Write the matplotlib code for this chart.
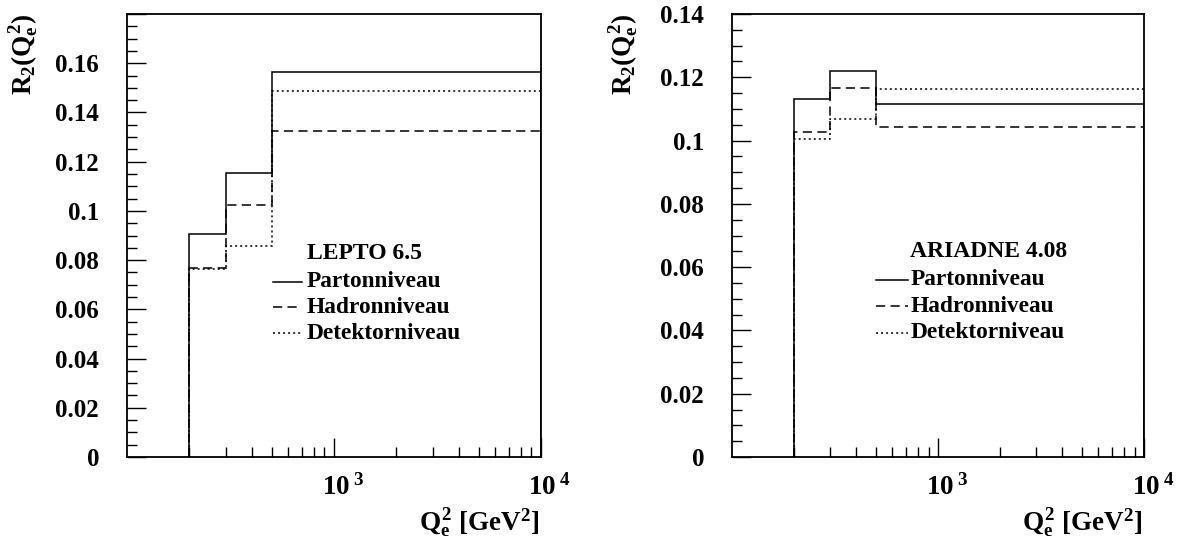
import numpy as np
import matplotlib
matplotlib.use("Agg")
import matplotlib.pyplot as plt
from matplotlib.transforms import ScaledTranslation

plt.rcParams["font.family"] = ["Liberation Serif", "DejaVu Serif"]
plt.rcParams["font.weight"] = "bold"
plt.rcParams["mathtext.fontset"] = "custom"
plt.rcParams["mathtext.rm"] = "Liberation Serif:bold"
plt.rcParams["mathtext.it"] = "Liberation Serif:bold"
plt.rcParams["mathtext.bf"] = "Liberation Serif:bold"

# Q_e^2 bin edges [GeV^2]
bin_edges = [200, 300, 500, 10000]

# LEPTO 6.5
lepto_parton = [0.0907, 0.1153, 0.1563]
lepto_hadron = [0.0770, 0.1026, 0.1325]
lepto_detector = [0.0765, 0.0858, 0.1486]

# ARIADNE 4.08
ariadne_parton = [0.1131, 0.1220, 0.1115]
ariadne_hadron = [0.1026, 0.1167, 0.1042]
ariadne_detector = [0.1005, 0.1068, 0.1164]

level_names = ["Partonniveau", "Hadronniveau", "Detektorniveau"]
x_tick_values = [1e3, 1e4]
x_tick_labels = [r"$10^{\;3}$", r"$10^{\;4}$"]

SOLID = "-"
DASHED = (0, (6, 3.5))
DOTTED = (0, (1.3, 2.0))
styles = [SOLID, DASHED, DOTTED]

fig = plt.figure(figsize=(11.8, 5.42), dpi=100)

panels = [
    dict(rect=[0.1076, 0.1568, 0.3508, 0.8173], ymax=0.18, hide_top=True,
         series=[lepto_parton, lepto_hadron, lepto_detector],
         title="LEPTO 6.5", title_xy=(0.575, 0.459),
         line_x=(0.352, 0.424), text_x=0.434, rows=[0.396, 0.338, 0.279],
         ylab_x=-0.251),
    dict(rect=[0.6203, 0.1568, 0.3492, 0.8173], ymax=0.14, hide_top=False,
         series=[ariadne_parton, ariadne_hadron, ariadne_detector],
         title="ARIADNE 4.08", title_xy=(0.623, 0.464),
         line_x=(0.349, 0.427), text_x=0.433, rows=[0.400, 0.340, 0.280],
         ylab_x=-0.262),
]

for p in panels:
    ax = fig.add_axes(p["rect"])
    # draw the solid (parton level) curve last so it sits on top
    for vals, ls in reversed(list(zip(p["series"], styles))):
        ax.stairs(vals, bin_edges, baseline=0, color="black", lw=1.1,
                  linestyle=ls)

    ax.set_xscale("log")
    ax.set_xlim(100, 1e4)
    ax.set_ylim(0, p["ymax"])

    ax.set_xticks(x_tick_values)
    ax.set_xticklabels(x_tick_labels)
    ax.set_xticks([v * m for v in (100, 1000) for m in range(2, 10)],
                  minor=True)
    ax.xaxis.set_minor_formatter(plt.NullFormatter())
    ax.set_yticks(np.arange(0, p["ymax"] + 1e-9, 0.02))
    ax.set_yticks(np.arange(0, p["ymax"] + 1e-9, 0.005), minor=True)

    top = p["ymax"]
    hide_top = p["hide_top"]

    def fmt(v, _, top=top, hide_top=hide_top):
        if abs(v) < 1e-12:
            return "0"
        if hide_top and abs(v - top) < 1e-9:
            return ""
        return f"{v:g}"

    ax.yaxis.set_major_formatter(plt.FuncFormatter(fmt))

    ax.tick_params(axis="both", which="both", direction="in",
                   top=False, right=False, width=1.0, labelsize=18)
    ax.tick_params(axis="x", which="major", labelsize=19.5)
    ax.tick_params(axis="y", which="major", length=14, pad=20)
    ax.tick_params(axis="y", which="minor", length=7.5)
    ax.tick_params(axis="x", which="major", length=14, pad=12)
    ax.tick_params(axis="x", which="minor", length=7.5)
    for lab in ax.get_xticklabels():
        lab.set_transform(lab.get_transform() +
                          ScaledTranslation(9 / 100, 0, fig.dpi_scale_trans))
    for s in ax.spines.values():
        s.set_linewidth(1.3)

    ax.text(p["ylab_x"], 1.002, r"$R_2(Q_e^2)$", rotation=90,
            ha="center", va="top", fontsize=19.5, transform=ax.transAxes)
    ax.text(0.997, -0.165, r"$Q_e^2$ [GeV$^2$]", ha="right", va="baseline",
            fontsize=19.5, transform=ax.transAxes)

    # legend block
    ax.text(p["title_xy"][0], p["title_xy"][1], p["title"], ha="center",
            va="center", fontsize=17, transform=ax.transAxes)
    for name, ls, y in zip(level_names, styles, p["rows"]):
        ax.plot(p["line_x"], [y, y], color="black", lw=1.1, linestyle=ls,
                transform=ax.transAxes)
        ax.text(p["text_x"], y, name, ha="left", va="center", fontsize=16.8,
                transform=ax.transAxes)

fig.savefig("out.png", dpi=100)
